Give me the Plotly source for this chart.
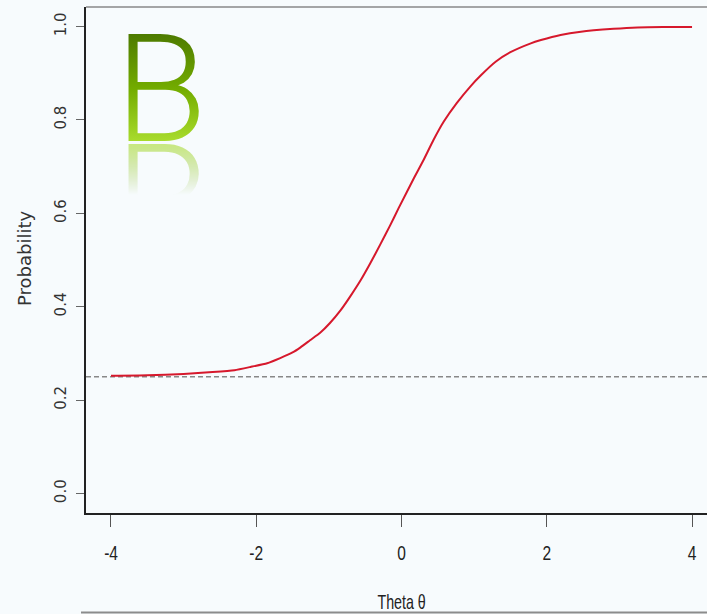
import json
import plotly.graph_objects as go

# Item characteristic curve (3PL-style) read as theta / probability pairs
theta = [-4.00, -3.50, -3.00, -2.60, -2.30, -2.08, -1.85, -1.67, -1.50, -1.39,
         -1.26, -1.12, -0.985, -0.84, -0.71, -0.565, -0.43, -0.29, -0.16, -0.04,
         0.17, 0.30, 0.44, 0.58, 0.76, 0.95, 1.09, 1.30, 1.50, 1.78,
         1.92, 2.19, 2.47, 2.92, 3.25, 3.60, 4.00]
prob = [0.252, 0.253, 0.256, 0.260, 0.264, 0.271, 0.279, 0.290, 0.302, 0.313,
        0.328, 0.344, 0.365, 0.392, 0.421, 0.456, 0.493, 0.534, 0.573, 0.611,
        0.675, 0.713, 0.757, 0.796, 0.836, 0.872, 0.895, 0.925, 0.945, 0.964,
        0.971, 0.982, 0.989, 0.995, 0.998, 0.999, 0.999]

guess_level = 0.25

x_ticks = [-4, -2, 0, 2, 4]
x_tick_text = ["-4", "-2", "0", "2", "4"]
y_ticks = [0.0, 0.2, 0.4, 0.6, 0.8, 1.0]
y_tick_text = ["0.0", "0.2", "0.4", "0.6", "0.8", "1.0"]

panel_letter = "B"
x_title = "Theta θ"
y_title = "Probability"

# ---- figure geometry (pixels) ----
W, H = 707, 614
ML, MT, MB, MR = 86, 7, 101, 0
PW, PH = W - ML - MR, H - MT - MB


def px(xp):
    return (xp - ML) / PW


def py(yp):
    return (MT + PH - yp) / PH


BG = "#f7fbfd"
INK = "#333333"
XFONT = "Liberation Sans, Arial, sans-serif"
TICK_SQUEEZE = 0.74    # horizontal condensing of the x tick labels
TITLE_SQUEEZE = 0.68   # horizontal condensing of the x title

fig = go.Figure()
fig.add_trace(go.Scatter(
    x=theta, y=prob, mode="lines",
    line=dict(color="#d6182c", width=2, shape="spline", smoothing=0.5),
    hoverinfo="skip", showlegend=False,
))

fig.update_layout(
    width=W, height=H,
    margin=dict(l=ML, r=MR, t=MT, b=MB, pad=0),
    paper_bgcolor=BG, plot_bgcolor=BG,
    showlegend=False,
    xaxis=dict(
        range=[-4.344, 4.206], showgrid=False, zeroline=False,
        tickmode="array", tickvals=x_ticks, ticktext=x_tick_text,
        ticks="outside", ticklen=12, tickwidth=1, tickcolor="#555555",
        ticklabelstandoff=8,
        tickfont=dict(family=XFONT, size=21, color="#222222"),
        showline=True, linecolor="#222222", linewidth=1.5,
    ),
    yaxis=dict(
        range=[-0.0418, 1.0418], showgrid=False, zeroline=False,
        tickmode="array", tickvals=y_ticks, ticktext=y_tick_text,
        ticks="outside", ticklen=8, tickwidth=1, tickcolor="#666666",
        tickangle=-90, ticklabelstandoff=4,
        tickfont=dict(family="DejaVu Sans", size=15, color=INK),
        showline=True, linecolor="#222222", linewidth=1.5,
    ),
)

# dashed guessing asymptote
fig.add_shape(type="line", xref="x domain", yref="y", x0=0, x1=1,
              y0=guess_level, y1=guess_level, layer="below",
              line=dict(color="#888888", width=1.3, dash="5px,3px"))
# top frame edge
fig.add_shape(type="line", xref="paper", yref="paper", x0=0, x1=1, y0=1, y1=1,
              line=dict(color="#888888", width=1.5))
# rule under the x title
fig.add_shape(type="line", xref="paper", yref="paper",
              x0=px(81), x1=1.0, y0=py(612.5), y1=py(612.5),
              line=dict(color="#8c8c8c", width=2))

# panel letter (gradient fill and mirrored echo are added after render)
fig.add_annotation(text=panel_letter, xref="paper", yref="paper",
                   x=px(161), y=py(90), xanchor="center", yanchor="middle",
                   showarrow=False,
                   font=dict(family="Roboto", size=150, weight=300, color="#78b000"))

fig.add_annotation(text=y_title, xref="paper", yref="paper",
                   x=px(24), y=py(259), xanchor="center", yanchor="middle",
                   textangle=-90, showarrow=False,
                   font=dict(family="DejaVu Sans", size=18, color=INK))
fig.add_annotation(text=x_title, xref="paper", yref="paper",
                   x=px(401), y=py(614), xanchor="center", yanchor="bottom",
                   showarrow=False, borderpad=0,
                   font=dict(family=XFONT, size=21, color="#222222"))

letter_stops = [["0.18", "#4d7a00", 1], ["0.5", "#74ad00", 1], ["0.80", "#aadd2e", 1]]
echo_mask_stops = [["0.50", "#ffffff", 0], ["0.79", "#ffffff", 0.6]]

post = """
var gd = document.getElementById('{plot_id}');
var ns = 'http://www.w3.org/2000/svg';
var svg = gd.querySelector('svg.main-svg');
var defs = svg.querySelector('defs');
if (!defs) { defs = document.createElementNS(ns, 'defs'); svg.insertBefore(defs, svg.firstChild); }
function addGrad(id, stops) {
  var g = document.createElementNS(ns, 'linearGradient');
  g.setAttribute('id', id);
  g.setAttribute('x1', '0'); g.setAttribute('y1', '0');
  g.setAttribute('x2', '0'); g.setAttribute('y2', '1');
  stops.forEach(function (s) {
    var st = document.createElementNS(ns, 'stop');
    st.setAttribute('offset', s[0]);
    st.setAttribute('stop-color', s[1]);
    st.setAttribute('stop-opacity', s[2]);
    g.appendChild(st);
  });
  defs.appendChild(g);
}
addGrad('letterFill', LETTER);
addGrad('echoFade', ECHO);
var mask = document.createElementNS(ns, 'mask');
mask.setAttribute('id', 'echoMask');
mask.setAttribute('maskContentUnits', 'objectBoundingBox');
var mr = document.createElementNS(ns, 'rect');
mr.setAttribute('x', '0'); mr.setAttribute('y', '0');
mr.setAttribute('width', '1'); mr.setAttribute('height', '1');
mr.setAttribute('fill', 'url(#echoFade)');
mask.appendChild(mr);
defs.appendChild(mask);

function squeeze(t, s) {
  var bb = t.getBBox();
  var cx = bb.x + bb.width / 2;
  var old = t.getAttribute('transform') || '';
  t.setAttribute('transform', old + ' translate(' + cx + ',0) scale(' + s + ',1) translate(' + (-cx) + ',0)');
}

gd.querySelectorAll('g.annotation').forEach(function (a) {
  var idx = a.getAttribute('data-index');
  var t = a.querySelector('text.annotation-text');
  if (!t) return;
  if (idx === '0') {
    t.setAttribute('id', 'panelLetter');
    t.style.fill = 'url(#letterFill)';
    var bb = t.getBBox();
    var base = parseFloat(t.getAttribute('y'));
    if (isNaN(base)) { base = bb.y + bb.height * 0.79; }
    var mirror = base + 1.5;
    var u = document.createElementNS(ns, 'use');
    u.setAttribute('href', '#panelLetter');
    u.setAttribute('mask', 'url(#echoMask)');
    u.setAttribute('transform', 'translate(0,' + (2 * mirror) + ') scale(1,-1)');
    t.parentNode.insertBefore(u, t);
  }
  if (idx === '2') { squeeze(t, TSQ); }
});
gd.querySelectorAll('g.xtick text').forEach(function (t) { squeeze(t, KSQ); });
""".replace("LETTER", json.dumps(letter_stops)).replace("ECHO", json.dumps(echo_mask_stops)) \
   .replace("TSQ", str(TITLE_SQUEEZE)).replace("KSQ", str(TICK_SQUEEZE))

fig.write_html("out.html", post_script=post)
